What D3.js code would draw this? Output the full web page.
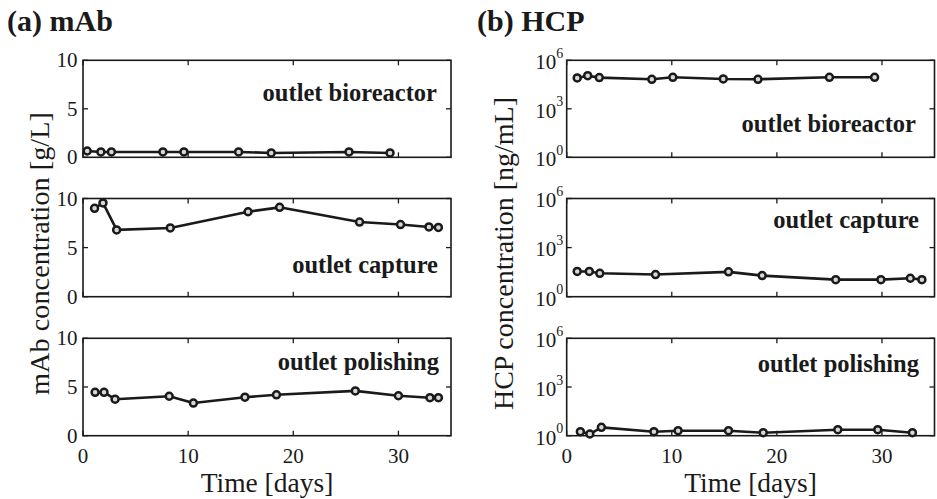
<!DOCTYPE html>
<html>
<head>
<meta charset="utf-8">
<script src="https://cdn.jsdelivr.net/npm/d3@7"></script>
<style>
  html, body { margin: 0; padding: 0; background: #fff; }
  svg { display: block; font-family: "Liberation Serif", "Times New Roman", serif; }
</style>
</head>
<body>
<svg id="chart" width="937" height="499"></svg>
<script>
// ---- data ----
const mAbTimeBio = [0.4, 1.7, 2.7, 7.6, 9.6, 14.8, 17.9, 25.3, 29.2];
const mAbBio     = [0.65, 0.55, 0.55, 0.55, 0.55, 0.55, 0.45, 0.55, 0.45];

const mAbTimeCap = [1.1, 1.9, 3.2, 8.3, 15.7, 18.7, 26.3, 30.2, 32.9, 33.8];
const mAbCap     = [9.0, 9.55, 6.8, 7.0, 8.65, 9.1, 7.6, 7.35, 7.1, 7.05];

const mAbTimePol = [1.15, 2.0, 3.05, 8.2, 10.5, 15.4, 18.4, 25.9, 30.0, 33.0, 33.8];
const mAbPol     = [4.45, 4.45, 3.75, 4.05, 3.35, 3.95, 4.2, 4.6, 4.1, 3.9, 3.9];

const hcpTimeBio = [1.0, 2.0, 3.1, 8.1, 10.1, 14.9, 18.2, 25.0, 29.3];
const hcpBio     = [81000, 112000, 85000, 67000, 89000, 70000, 67000, 89000, 89000];

const hcpTimeCap = [1.0, 2.15, 3.15, 8.45, 15.4, 18.6, 25.6, 29.9, 32.7, 33.8];
const hcpCap     = [35, 35, 27, 22.5, 33, 19.5, 11, 11, 13.4, 11];

const hcpTimePol = [1.3, 2.2, 3.3, 8.3, 10.6, 15.4, 18.7, 25.8, 29.6, 32.9];
const hcpPol     = [1.76, 1.27, 3.26, 1.76, 2.03, 2.03, 1.53, 2.34, 2.34, 1.53];

const panelLabels = ["outlet bioreactor", "outlet capture", "outlet polishing"];
const xTicks = [0, 10, 20, 30];
const mAbTicks = [0, 5, 10];
const hcpTicks = [1, 1e3, 1e6];
const hcpTickExp = ["0", "3", "6"];

// ---- layout ----
const svg = d3.select("#chart");
const rows = [[60.3, 157.3], [198.5, 296.7], [338.3, 435.7]];
const cols = [
  { x0: 83, x1: 451, kind: "lin" },
  { x0: 566.7, x1: 934.5, kind: "log" }
];
const ink = "#1a1a1a";

const mAbSeries = [[mAbTimeBio, mAbBio], [mAbTimeCap, mAbCap], [mAbTimePol, mAbPol]];
const hcpSeries = [[hcpTimeBio, hcpBio], [hcpTimeCap, hcpCap], [hcpTimePol, hcpPol]];

const labelPos = [
  [[437, 100.7], [438, 272.7], [439, 370]],
  [[916, 131.7], [919, 228], [919, 371.7]]
];

cols.forEach((c, ci) => {
  const x = d3.scaleLinear().domain([0, 35]).range([c.x0, c.x1]);
  rows.forEach((r, ri) => {
    const [top, bot] = r;
    const y = c.kind === "lin"
      ? d3.scaleLinear().domain([0, 10]).range([bot, top])
      : d3.scaleLog().domain([1, 1e6]).range([bot, top]);
    const g = svg.append("g");
    const tl = 5;
    const yt = c.kind === "lin" ? mAbTicks : hcpTicks;
    yt.forEach(v => {
      g.append("line").attr("x1", c.x0).attr("x2", c.x0 + tl).attr("y1", y(v)).attr("y2", y(v))
        .attr("stroke", ink).attr("stroke-width", 1.3);
      g.append("line").attr("x1", c.x1).attr("x2", c.x1 - tl).attr("y1", y(v)).attr("y2", y(v))
        .attr("stroke", ink).attr("stroke-width", 1.3);
    });
    xTicks.forEach(v => {
      g.append("line").attr("x1", x(v)).attr("x2", x(v)).attr("y1", bot).attr("y2", bot - tl)
        .attr("stroke", ink).attr("stroke-width", 1.3);
      g.append("line").attr("x1", x(v)).attr("x2", x(v)).attr("y1", top).attr("y2", top + tl)
        .attr("stroke", ink).attr("stroke-width", 1.3);
    });
    g.append("rect").attr("x", c.x0).attr("y", top).attr("width", c.x1 - c.x0).attr("height", bot - top)
      .attr("fill", "none").attr("stroke", ink).attr("stroke-width", 1.6);

    if (c.kind === "lin") {
      yt.forEach(v => {
        g.append("text").attr("x", c.x0 - 5.5).attr("y", y(v)).attr("dy", "0.34em")
          .attr("text-anchor", "end").attr("font-size", 21).attr("fill", ink).text(v);
      });
    } else {
      yt.forEach((v, i) => {
        const t = g.append("text").attr("x", c.x0 - 3.5).attr("y", y(v)).attr("dy", "0.42em")
          .attr("text-anchor", "end").attr("font-size", 21).attr("fill", ink);
        t.append("tspan").text("10");
        t.append("tspan").attr("font-size", 14).attr("dy", "-0.8em").text(hcpTickExp[i]);
      });
    }

    const [xs, ys] = (c.kind === "lin" ? mAbSeries : hcpSeries)[ri];
    const pts = xs.map((t, i) => [t, ys[i]]);
    const line = d3.line().x(d => x(d[0])).y(d => y(d[1]));
    g.append("path").datum(pts).attr("d", line).attr("fill", "none")
      .attr("stroke", ink).attr("stroke-width", 2.6).attr("stroke-linejoin", "round");
    g.selectAll("circle.m").data(pts).enter().append("circle")
      .attr("cx", d => x(d[0])).attr("cy", d => y(d[1])).attr("r", 3.5)
      .attr("fill", "#d8d8d8").attr("stroke", ink).attr("stroke-width", 2.5);

    const lp = labelPos[ci][ri];
    g.append("text").attr("x", lp[0]).attr("y", lp[1]).attr("text-anchor", "end")
      .attr("font-size", 24.5).attr("font-weight", "bold").attr("fill", ink).text(panelLabels[ri]);

    if (ri === 2) {
      xTicks.forEach(v => {
        g.append("text").attr("x", x(v)).attr("y", 463).attr("text-anchor", "middle")
          .attr("font-size", 21).attr("fill", ink).text(v);
      });
      g.append("text").attr("x", (c.x0 + c.x1) / 2).attr("y", 491.5).attr("text-anchor", "middle")
        .attr("font-size", 27.5).attr("fill", ink).text("Time [days]");
    }
  });
});

// y axis titles
svg.append("text").attr("transform", "translate(48.5,253.5) rotate(-90)").attr("text-anchor", "middle")
  .attr("font-size", 28.3).attr("fill", ink).text("mAb concentration [g/L]");
svg.append("text").attr("transform", "translate(513,253.5) rotate(-90)").attr("text-anchor", "middle")
  .attr("font-size", 28).attr("fill", ink).text("HCP concentration [ng/mL]");

// panel titles
svg.append("text").attr("x", 7).attr("y", 31).attr("font-size", 30).attr("font-weight", "bold")
  .attr("fill", ink).text("(a) mAb");
svg.append("text").attr("x", 477).attr("y", 31).attr("font-size", 30).attr("font-weight", "bold")
  .attr("fill", ink).text("(b) HCP");
</script>
</body>
</html>
